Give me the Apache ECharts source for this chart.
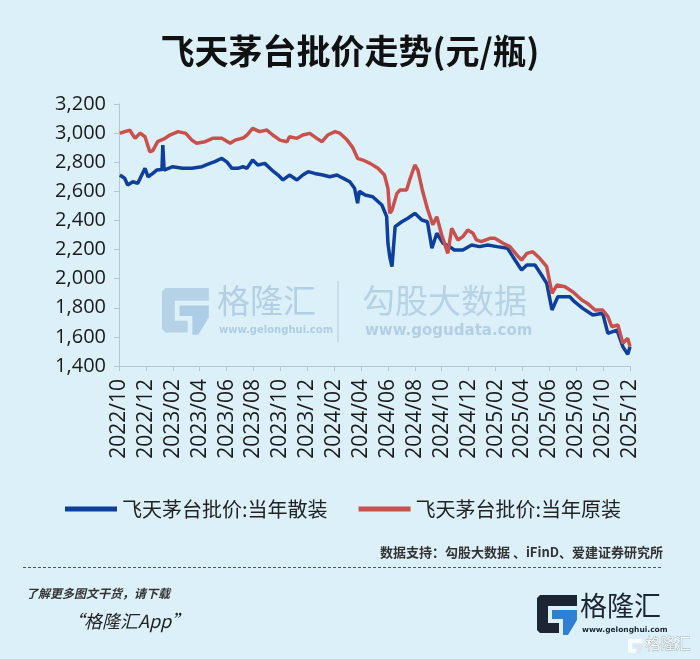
<!DOCTYPE html>
<html><head><meta charset="utf-8">
<script src="https://cdn.jsdelivr.net/npm/echarts@6/dist/echarts.min.js"></script>
<style>html,body{margin:0;padding:0;background:#dcf0fa}#c{width:700px;height:659px}</style>
</head><body><div id="c"></div><script>
const tickLabels = ['2022/10','2022/12','2023/02','2023/04','2023/06','2023/08','2023/10','2023/12',
  '2024/02','2024/04','2024/06','2024/08','2024/10','2024/12','2025/02','2025/04','2025/06','2025/08','2025/10','2025/12'];
const seriesNames = ['飞天茅台批价:当年散装', '飞天茅台批价:当年原装'];

const looseDates = ['2022-10-03','2022-10-14','2022-10-21','2022-11-02','2022-11-13','2022-11-29','2022-12-06','2022-12-17','2022-12-26',
  '2023-01-07','2023-01-09','2023-01-12','2023-02-01','2023-02-21','2023-03-14','2023-04-06','2023-04-24','2023-05-05','2023-05-21',
  '2023-06-02','2023-06-13','2023-06-26','2023-07-08','2023-07-17','2023-07-30','2023-08-11','2023-08-27','2023-09-12','2023-09-26',
  '2023-10-07','2023-10-22','2023-11-08','2023-11-21','2023-12-03','2023-12-18','2024-01-06','2024-01-22','2024-02-07','2024-02-14',
  '2024-02-21','2024-03-06','2024-03-17','2024-03-24','2024-03-28','2024-04-10','2024-04-27','2024-05-18','2024-05-29','2024-06-01',
  '2024-06-05','2024-06-10','2024-06-17','2024-07-02','2024-07-16','2024-08-01','2024-08-17','2024-08-30','2024-09-09','2024-09-20',
  '2024-10-04','2024-10-19','2024-10-30','2024-11-18','2024-12-08','2024-12-26','2025-01-14','2025-02-04','2025-02-26','2025-03-10',
  '2025-03-30','2025-04-11','2025-04-29','2025-05-14','2025-05-26','2025-06-07','2025-06-20','2025-07-17','2025-07-28','2025-08-16',
  '2025-09-08','2025-09-30','2025-10-12','2025-11-02','2025-11-15','2025-11-26','2025-12-01'];
const looseValues = [2712,2690,2643,2666,2655,2758,2700,2723,2746,
  2750,2918,2746,2769,2758,2758,2769,2792,2804,2827,
  2800,2758,2758,2769,2758,2815,2781,2792,2746,2712,
  2678,2712,2678,2712,2735,2723,2712,2700,2712,2700,
  2689,2666,2621,2518,2600,2575,2563,2506,2426,2243,
  2150,2082,2357,2391,2415,2449,2403,2391,2209,2312,
  2243,2220,2197,2197,2231,2220,2231,2220,2209,2151,
  2060,2094,2094,2025,1968,1785,1876,1876,1842,1796,
  1750,1762,1624,1647,1533,1480,1533];

const boxedDates = ['2022-10-03','2022-10-14','2022-10-26','2022-11-07','2022-11-18','2022-11-29','2022-12-10','2022-12-17','2022-12-28',
  '2023-01-14','2023-01-25','2023-02-12','2023-02-28','2023-03-14','2023-03-25','2023-04-13','2023-04-30','2023-05-21','2023-06-09',
  '2023-06-20','2023-07-08','2023-07-17','2023-07-30','2023-08-15','2023-09-01','2023-09-14','2023-09-30','2023-10-16','2023-10-22',
  '2023-11-08','2023-11-21','2023-12-07','2023-12-23','2024-01-04','2024-01-17','2024-02-03','2024-02-14','2024-02-29','2024-03-13',
  '2024-03-24','2024-04-05','2024-04-21','2024-05-09','2024-05-24','2024-06-01','2024-06-05','2024-06-10','2024-06-21','2024-06-28',
  '2024-07-13','2024-07-20','2024-07-24','2024-08-01','2024-08-08','2024-08-12','2024-08-19','2024-08-30','2024-09-11','2024-09-20',
  '2024-10-01','2024-10-15','2024-10-24','2024-11-07','2024-11-18','2024-11-29','2024-12-11','2024-12-19','2024-12-30','2025-01-19',
  '2025-01-30','2025-02-17','2025-03-03','2025-03-19','2025-03-30','2025-04-11','2025-04-24','2025-05-10','2025-05-26','2025-06-07',
  '2025-06-18','2025-07-06','2025-07-24','2025-08-14','2025-08-27','2025-09-13','2025-09-30','2025-10-12','2025-10-21','2025-11-04',
  '2025-11-15','2025-11-26','2025-12-01'];
const boxedValues = [2998,3010,3020,2964,3000,2975,2872,2880,2941,
  2964,2987,3010,2998,2952,2930,2941,2964,2964,2930,
  2952,2966,2987,3033,3010,3021,2987,2952,2941,2975,
  2964,2987,2998,2964,2941,2987,3010,2998,2952,2900,
  2827,2815,2792,2758,2712,2620,2449,2470,2586,2609,
  2609,2678,2712,2781,2746,2746,2600,2480,2370,2426,
  2300,2174,2346,2266,2289,2334,2312,2266,2254,2277,
  2277,2243,2220,2163,2128,2174,2185,2140,2082,1899,
  1956,1944,1910,1853,1830,1785,1785,1739,1670,1682,
  1556,1590,1533];

function monthIndex(s) {
  const [y, m, d] = s.split('-').map(Number);
  const dim = new Date(y, m, 0).getDate();
  return (y - 2022) * 12 + (m - 10) + (d - 1) / dim;
}
const pair = (dates, vals) => dates.map((d, i) => [monthIndex(d), vals[i]]);

function gIcon(x, y, s, frame, tri) {
  const p = pts => pts.map(([a, b]) => [x + a * s, y + b * s]);
  return [
    { type: 'polygon', shape: { points: p([[0,3],[3,0],[40,0],[40,11],[11,11],[11,28],[22,28],[22,38],[3,38],[0,35]]) }, style: { fill: frame } },
    { type: 'polygon', shape: { points: p([[15,15],[40,15],[40,25],[31,40],[26,40],[26,24],[15,24]]) }, style: { fill: tri } }
  ];
}

const chart = echarts.init(document.getElementById('c'));
chart.setOption({
  backgroundColor: '#dcf0fa',
  animation: false,
  title: { text: '飞天茅台批价走势(元/瓶)', left: 'center', top: 29,
    textStyle: { fontFamily: 'Noto Sans CJK SC', fontWeight: 'bold', fontSize: 34, color: '#111' } },
  grid: { left: 119, right: 70, top: 104, bottom: 293 },
  legend: { left: 60, top: 494, itemWidth: 52, itemHeight: 5, itemGap: 31, icon: 'rect',
    textStyle: { fontFamily: 'Noto Sans CJK SC', fontSize: 20, color: '#222' },
    data: seriesNames },
  xAxis: { type: 'value', min: 0, max: 38, interval: 2,
    axisLine: { lineStyle: { color: '#b3c6d6', width: 1 } },
    axisTick: { show: true, length: 5, lineStyle: { color: '#b3c6d6' } },
    splitLine: { show: false },
    axisLabel: { rotate: 90, margin: 13, fontSize: 21, color: '#1a1a1a', fontFamily: 'Open Sans',
      formatter: v => tickLabels[Math.round(v / 2)] } },
  yAxis: { type: 'value', min: 1400, max: 3200, interval: 200,
    axisLine: { show: true, lineStyle: { color: '#b3c6d6', width: 1 } },
    axisTick: { show: true, length: 5, lineStyle: { color: '#b3c6d6' } },
    splitLine: { show: false },
    axisLabel: { margin: 13, fontSize: 20, color: '#1a1a1a', fontFamily: 'Open Sans',
      formatter: v => v.toLocaleString('en-US') } },
  series: [
    { name: seriesNames[0], type: 'line', showSymbol: false, data: pair(looseDates, looseValues),
      lineStyle: { width: 3.5, color: '#0f3f9e' }, itemStyle: { color: '#0f3f9e' } },
    { name: seriesNames[1], type: 'line', showSymbol: false, data: pair(boxedDates, boxedValues),
      lineStyle: { width: 3.5, color: '#c9504b' }, itemStyle: { color: '#c9504b' } }
  ],
  graphic: [
    ...gIcon(162, 288, 1.17, 'rgba(150,185,215,0.55)', 'rgba(125,168,210,0.5)'),
    { type: 'text', left: 217, top: 284, style: { text: '格隆汇', font: '33px "Noto Sans CJK SC"', fill: 'rgba(150,185,215,0.6)' } },
    { type: 'text', left: 219, top: 325, style: { text: 'www.gelonghui.com', font: 'bold 10px "DejaVu Sans"', fill: 'rgba(150,185,215,0.65)' } },
    { type: 'line', shape: { x1: 338, y1: 281, x2: 338, y2: 342 }, style: { stroke: 'rgba(160,190,215,0.5)', lineWidth: 1.5 } },
    { type: 'text', left: 362, top: 284, style: { text: '勾股大数据', font: '33px "Noto Sans CJK SC"', fill: 'rgba(150,185,215,0.55)' } },
    { type: 'text', left: 365, top: 324, style: { text: 'www.gogudata.com', font: 'bold 15px "DejaVu Sans"', fill: 'rgba(150,185,215,0.6)' } },
    { type: 'text', right: 37, top: 546, style: { text: '数据支持：勾股大数据 、iFinD、爱建证券研究所', font: 'bold 13px "Noto Sans CJK SC"', fill: '#333' } },
    { type: 'line', shape: { x1: 23, y1: 567.5, x2: 663, y2: 567.5 }, style: { stroke: '#555', lineWidth: 1, lineDash: [3, 2] } },
    { type: 'text', left: 26, top: 587, style: { text: '了解更多图文干货，请下载', font: 'italic bold 12px "Noto Sans CJK SC"', fill: '#333' } },
    { type: 'text', left: 66, top: 612, style: { text: '“格隆汇App”', font: 'italic 18px "Noto Sans CJK SC"', fill: '#222' } },
    ...gIcon(537, 595, 1.0, '#1b2533', '#2f7fd3'),
    { type: 'text', left: 580, top: 592, style: { text: '格隆汇', font: '27px "Noto Sans CJK SC"', fill: '#1b2533' } },
    { type: 'text', left: 582, top: 626, style: { text: 'www.gelonghui.com', font: 'bold 7.5px "DejaVu Sans"', fill: '#1b2533' } },
    ...gIcon(628, 639, 0.36, 'rgba(255,255,255,0.85)', 'rgba(220,230,238,0.9)'),
    { type: 'text', left: 645, top: 635, style: { text: '格隆汇', font: '15px "Noto Sans CJK SC"', fill: 'rgba(255,255,255,0.9)', stroke: 'rgba(120,130,140,0.6)', lineWidth: 0.8 } }
  ]
});
</script></body></html>
